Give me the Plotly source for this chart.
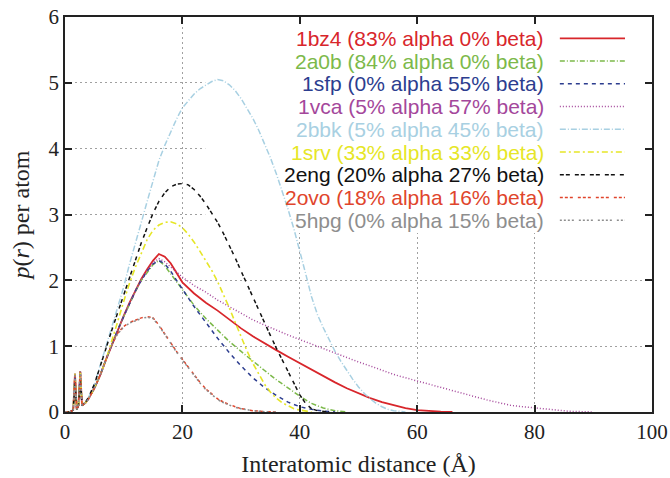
import plotly.graph_objects as go

# ---------------- data ----------------
start_x = [0, 0.8, 1.4, 1.7, 2.0, 2.3, 2.6, 2.9, 3.5, 4, 5, 6, 7, 8]
start_y = [0, 0, 0.03, 0.58, 0.04, 0.1, 0.62, 0.1, 0.14, 0.2, 0.36, 0.56, 0.8, 1.03]

bz4_x = start_x + [9, 10, 11, 12, 13, 14, 15, 16, 17, 18, 19, 20, 22, 24, 26, 28, 30, 32, 34, 36,
                   38, 40, 42, 44, 46, 48, 50, 52, 54, 56, 58, 60, 62, 64, 66]
bz4_y = start_y + [1.25, 1.46, 1.66, 1.85, 2.02, 2.17, 2.3, 2.4, 2.36, 2.26, 2.12, 1.97, 1.8, 1.66,
                   1.54, 1.4, 1.27, 1.15, 1.04, 0.94, 0.84, 0.74, 0.64, 0.54, 0.45, 0.36, 0.28,
                   0.21, 0.15, 0.1, 0.06, 0.03, 0.015, 0.005, 0]

a0b_x = start_x + [9, 10, 11, 12, 13, 14, 15, 16, 17, 18, 19, 20, 22, 24, 26, 28, 30, 32, 34, 36,
                   38, 40, 42, 44, 46, 48]
a0b_y = start_y + [1.25, 1.45, 1.65, 1.83, 2.0, 2.13, 2.24, 2.3, 2.22, 2.1, 1.98, 1.86, 1.62, 1.42,
                   1.24, 1.07, 0.92, 0.77, 0.63, 0.49, 0.36, 0.24, 0.13, 0.06, 0.02, 0]

sfp_x = start_x + [9, 10, 11, 12, 13, 14, 15, 16, 17, 18, 19, 20, 22, 24, 26, 28, 30, 32, 34, 36,
                   38, 40, 42, 44, 46]
sfp_y = start_y + [1.25, 1.45, 1.65, 1.84, 2.0, 2.14, 2.25, 2.3, 2.25, 2.14, 2.0, 1.86, 1.6, 1.36,
                   1.12, 0.9, 0.7, 0.52, 0.37, 0.25, 0.15, 0.08, 0.04, 0.015, 0]

vca_x = start_x + [9, 10, 11, 12, 13, 14, 15, 16, 17, 18, 19, 20, 22, 24, 26, 28, 30, 32, 34, 36,
                   38, 40, 42, 44, 46, 48, 50, 52, 54, 56, 58, 60, 62, 64, 66, 68, 70, 72, 74,
                   76, 78, 80, 82, 84, 86, 90]
vca_y = start_y + [1.25, 1.45, 1.65, 1.84, 2.0, 2.15, 2.27, 2.33, 2.28, 2.2, 2.12, 2.05, 1.92, 1.82,
                   1.7, 1.6, 1.5, 1.4, 1.32, 1.24, 1.17, 1.1, 1.03, 0.96, 0.9, 0.83, 0.76, 0.7,
                   0.63, 0.57, 0.52, 0.47, 0.42, 0.37, 0.32, 0.28, 0.23, 0.18, 0.14, 0.1, 0.08,
                   0.06, 0.04, 0.02, 0.01, 0]

bbk_x = [0, 0.8, 1.4, 1.7, 2.0, 2.3, 2.6, 2.9, 3.5, 4, 5, 6, 7, 8, 9, 10, 11, 12, 13, 14, 15, 16,
         17, 18, 19, 20, 21, 22, 23, 24, 25, 26, 27, 28, 29, 30, 31, 32, 33, 34, 35, 36, 37, 38,
         39, 40, 41, 42, 43, 44, 45, 46, 47, 48, 49, 50, 51, 52, 53, 54, 55, 56, 58]
bbk_y = [0, 0, 0.03, 0.5, 0.04, 0.1, 0.55, 0.1, 0.15, 0.22, 0.42, 0.7, 1.0, 1.3, 1.6, 1.9, 2.25,
         2.55, 2.88, 3.2, 3.52, 3.82, 4.05, 4.26, 4.45, 4.62, 4.73, 4.83, 4.91, 4.97, 5.02, 5.05,
         5.03, 4.97, 4.88, 4.76, 4.62, 4.46, 4.28, 4.08, 3.86, 3.62, 3.36, 3.08, 2.78, 2.42, 2.1,
         1.75, 1.48, 1.28, 1.1, 0.92, 0.77, 0.63, 0.5, 0.38, 0.28, 0.2, 0.13, 0.08, 0.04, 0.02, 0]

srv_x = start_x[:-1] + [8, 9, 10, 11, 12, 13, 14, 15, 16, 17, 18, 19, 20, 21, 22, 23, 24, 25, 26,
                        27, 28, 29, 30, 31, 32, 33, 34, 35, 36, 37, 38, 39, 40, 42]
srv_y = start_y[:-1] + [1.08, 1.38, 1.68, 1.96, 2.2, 2.42, 2.62, 2.76, 2.84, 2.88, 2.89, 2.86, 2.8,
                        2.7, 2.58, 2.44, 2.3, 2.15, 1.98, 1.79, 1.58, 1.36, 1.14, 0.93, 0.74, 0.57,
                        0.42, 0.3, 0.21, 0.14, 0.09, 0.05, 0.03, 0]

eng_x = [0, 0.8, 1.4, 1.7, 2.0, 2.3, 2.6, 2.9, 3.5, 4, 5, 6, 7, 8, 9, 10, 11, 12, 13, 14, 15, 16,
         17, 18, 19, 20, 21, 22, 23, 24, 25, 26, 27, 28, 29, 30, 31, 32, 33, 34, 35, 36, 37, 38,
         39, 40, 41, 42, 43, 45]
eng_y = [0, 0, 0.03, 0.45, 0.04, 0.1, 0.5, 0.1, 0.15, 0.22, 0.42, 0.68, 0.97, 1.25, 1.52, 1.78,
         2.05, 2.32, 2.57, 2.8, 3.02, 3.2, 3.33, 3.42, 3.46, 3.47, 3.45, 3.38, 3.28, 3.16, 3.03,
         2.88, 2.71, 2.53, 2.34, 2.14, 1.94, 1.74, 1.54, 1.35, 1.16, 0.97, 0.79, 0.6, 0.42, 0.26,
         0.13, 0.05, 0.02, 0]

ovo_x = start_x + [9, 10, 11, 12, 13, 14, 15, 16, 17, 18, 19, 20, 21, 22, 23, 24, 25, 26, 27, 28,
                   29, 30, 32, 34, 36]
ovo_y = start_y + [1.2, 1.3, 1.36, 1.4, 1.43, 1.45, 1.43, 1.32, 1.18, 1.05, 0.92, 0.8, 0.68, 0.56,
                   0.45, 0.35, 0.27, 0.2, 0.15, 0.11, 0.08, 0.05, 0.02, 0.005, 0]

hpg_x = start_x + [9, 10, 11, 12, 13, 14, 15, 16, 17, 18, 19, 20, 21, 22, 23, 24, 25, 26, 27, 28,
                   29, 30, 32, 34, 36]
hpg_y = start_y + [1.19, 1.29, 1.35, 1.39, 1.42, 1.44, 1.42, 1.31, 1.17, 1.04, 0.91, 0.79, 0.67,
                   0.55, 0.44, 0.34, 0.26, 0.19, 0.14, 0.1, 0.07, 0.05, 0.02, 0.005, 0]

names = ["1bz4 (83% alpha 0% beta)", "2a0b (84% alpha 0% beta)", "1sfp (0% alpha 55% beta)",
         "1vca (5% alpha 57% beta)", "2bbk (5% alpha 45% beta)", "1srv (33% alpha 33% beta)",
         "2eng (20% alpha 27% beta)", "2ovo (18% alpha 16% beta)", "5hpg (0% alpha 15% beta)"]
xs = [bz4_x, a0b_x, sfp_x, vca_x, bbk_x, srv_x, eng_x, ovo_x, hpg_x]
ys = [bz4_y, a0b_y, sfp_y, vca_y, bbk_y, srv_y, eng_y, ovo_y, hpg_y]

x_ticks = [0, 20, 40, 60, 80, 100]
y_ticks = [0, 1, 2, 3, 4, 5, 6]

# ---------------- styles ----------------
colors = ["#d8262b", "#7cb94a", "#2c3d8f", "#a4479b", "#a8d0e2", "#e6e627",
          "#111111", "#e0452c", "#8e8e8e"]
dashes = ["solid", "5px,2px,1px,2px", "4px,4px", "1px,2px", "6px,2px,1px,2px",
          "6px,3px,2px,3px", "4px,2px,4px,5px", "3px,2px,3px,2px,3px,5px",
          "2px,2px,2px,2px,2px,2px,2px,5px"]
widths = [1.8, 1.5, 1.5, 1.5, 1.5, 1.6, 1.5, 1.5, 1.5]

fig = go.Figure()
for n, x, y, c, d, w in zip(names, xs, ys, colors, dashes, widths):
    fig.add_trace(go.Scatter(x=x, y=y, mode="lines", name=n,
                             line=dict(color=c, dash=d, width=w), showlegend=False))

# opaque key box hides the grid (drawn between grid and traces)
fig.add_shape(type="rect", xref="x", yref="y", x0=23.9, x1=99.6, y0=2.72, y1=5.99,
              fillcolor="white", line=dict(width=0), layer="between")

# hand-made key: text right aligned, sample line at right
row_step = 0.0576
for i, (n, c, d, w) in enumerate(zip(names, colors, dashes, widths)):
    yy = 0.9461 - i * row_step
    fig.add_annotation(xref="paper", yref="paper", x=0.819, y=yy, text=n, showarrow=False,
                       xanchor="right", yanchor="middle",
                       font=dict(family="Liberation Sans", size=21, color=c))
    fig.add_shape(type="line", xref="paper", yref="paper", x0=0.843, x1=0.954, y0=yy, y1=yy,
                  line=dict(color=c, dash=d, width=w))

axis_common = dict(showline=True, linecolor="#222222", linewidth=1.5, mirror="ticks",
                   ticks="inside", ticklen=7, tickwidth=1.5, tickcolor="#222222",
                   showgrid=True, gridcolor="#a0a0a0", gridwidth=1, griddash="2px,3px",
                   zeroline=False, automargin=False,
                   tickfont=dict(family="Liberation Serif", size=21, color="#222222"))

fig.update_layout(
    width=670, height=478,
    margin=dict(l=65, r=18, t=17, b=66),
    paper_bgcolor="white", plot_bgcolor="white",
    xaxis=dict(range=[0, 100], tickvals=x_ticks,
               title=dict(text="Interatomic distance (Å)", standoff=12,
                          font=dict(family="Liberation Serif", size=24, color="#222222")),
               **axis_common),
    yaxis=dict(range=[0, 6], tickvals=y_ticks,
               title=dict(text="<i>p</i>(<i>r</i>) per atom", standoff=12,
                          font=dict(family="Liberation Serif", size=24, color="#222222")),
               **axis_common),
)

fig.write_html("out.html")
